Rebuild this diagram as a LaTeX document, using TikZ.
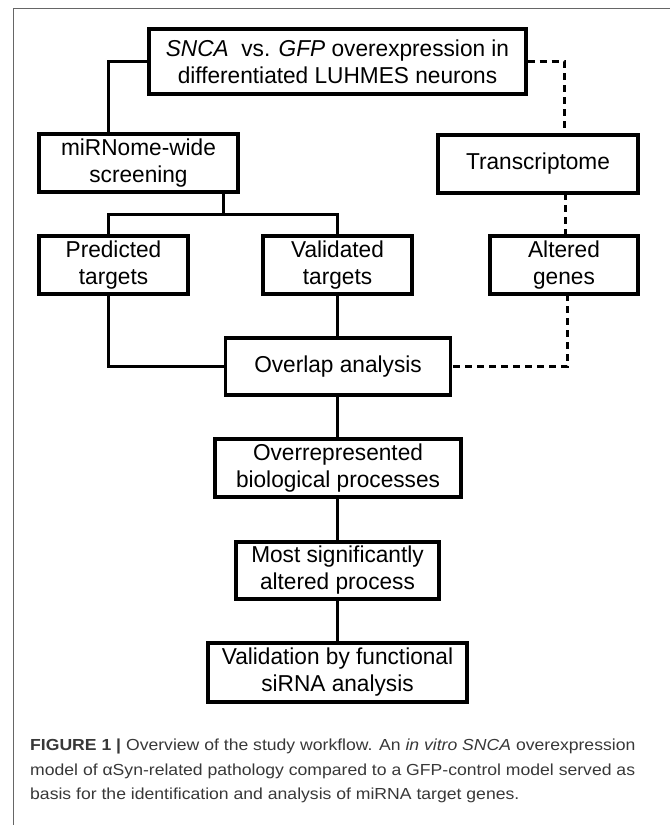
\documentclass[tikz,border=0pt]{standalone}
\usepackage{fontspec}
\setmainfont{Liberation Sans}[FakeStretch=0.985]
\newfontfamily\capfont{Liberation Sans}[FakeStretch=1.1]
\begin{document}
\begin{tikzpicture}[x=1pt,y=-1pt,
  box/.style={draw=black, line width=3.2pt, inner sep=0pt, align=center,
    font=\fontsize{23}{27}\selectfont},
  conn/.style={line width=3pt, line join=miter},
  dconn/.style={line width=3pt, dash pattern=on 7pt off 5pt},
  captxt/.style={anchor=base west, inner sep=0pt, text=black!78,
    font=\capfont\fontsize{16}{25}\selectfont}]
\useasboundingbox (0,0) rectangle (670,825);
% frame
\draw[black!60, line width=1pt] (13,825) -- (13,8) -- (670,8);
% boxes
\node[box, minimum width=377pt, minimum height=65pt] (top) at (337.5,61.5)
  {\textit{SNCA}\ \ vs. \textit{GFP} overexpression in\\differentiated LUHMES neurons};
\node[box, minimum width=199pt, minimum height=58pt] (mir) at (138.5,163) {miRNome-wide\\screening};
\node[box, minimum width=200pt, minimum height=58pt] (trans) at (538,164) {Transcriptome};
\node[box, minimum width=149pt, minimum height=58pt] (pred) at (113.5,265) {Predicted\\targets};
\node[box, minimum width=149pt, minimum height=58pt] (val) at (337.5,265) {Validated\\targets};
\node[box, minimum width=148pt, minimum height=58pt] (alt) at (564,265) {Altered\\genes};
\node[box, minimum width=225pt, minimum height=57pt] (ovl) at (338,366.5) {Overlap analysis};
\node[box, minimum width=246pt, minimum height=58pt] (ovr) at (338,468) {Overrepresented\\biological processes};
\node[box, minimum width=203pt, minimum height=57pt] (most) at (337.5,570.5) {Most significantly\\altered process};
\node[box, minimum width=259pt, minimum height=59pt] (vld) at (337.5,672.5) {Validation by functional\\siRNA analysis};
% bend coordinates
\coordinate (mirtop) at (108,134);
\coordinate (mirbot) at (223,192);
\coordinate (split) at (223,214);
\coordinate (predtop) at (108,236);
\coordinate (predbot) at (108,294);
\coordinate (valtop) at (337.5,236);
\coordinate (transtop) at (564,135);
\coordinate (transbot) at (565,193);
\coordinate (alttop) at (565,236);
\coordinate (altbot) at (567,294);
% solid connectors
\draw[conn] (top.west) -| (mirtop);
\draw[conn] (mirbot) -- (split);
\draw[conn] (predtop) |- (split) -| (valtop);
\draw[conn] (predbot) |- (ovl.west);
\draw[conn] (val.south) -- (val.south |- ovl.north);
\draw[conn] (ovl.south -| most.north) -- (ovr.north -| most.north);
\draw[conn] (ovr.south -| most.north) -- (most.north);
\draw[conn] (most.south) -- (vld.north);
% dashed connectors
\draw[dconn] (top.east) -| (transtop);
\draw[dconn] (transbot) -- (alttop);
\draw[dconn] (altbot) |- (ovl.east);
% caption
\node[captxt] (cap1) at (30,750) {\textbf{FIGURE 1 |} Overview of the study workflow. An \textit{in vitro SNCA} overexpression};
\node[captxt] (cap2) at (30,775) {model of αSyn-related pathology compared to a GFP-control model served as};
\node[captxt] (cap3) at (30,799) {basis for the identification and analysis of miRNA target genes.};
\end{tikzpicture}
\end{document}
